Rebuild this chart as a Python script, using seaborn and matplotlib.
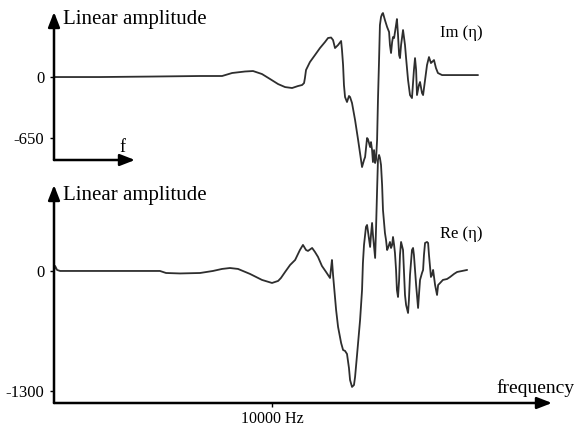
import matplotlib
matplotlib.use("Agg")
import matplotlib.pyplot as plt
import seaborn as sns

# ---------------- data ----------------
im_freq = [0, 2110, 4400, 6700, 7710, 8170, 8760, 9130, 9540, 9910, 10280, 10600,
           10920, 11190, 11380, 11470, 11510, 11560, 11740, 11970, 12200, 12430,
           12570, 12710, 12800, 12890, 13030, 13170, 13210, 13260, 13300, 13350,
           13440, 13530, 13580, 13670, 13810, 13950, 14130, 14220, 14270, 14360,
           14400, 14500, 14540, 14590, 14630, 14680, 14730, 14770, 14820, 14860,
           14910, 14950, 15000, 15050, 15090, 15180, 15280, 15370, 15410, 15460,
           15510, 15550, 15600, 15690, 15730, 15780, 15830, 15870, 15920, 16010,
           16100, 16150, 16240, 16330, 16420, 16510, 16560, 16610, 16650, 16740,
           16790, 16880, 16930, 17020, 17110, 17200, 17290, 17340, 17430, 17520,
           17610, 17800, 18620, 19450]
im_amp = [0, 0, 5, 11, 11, 43, 59, 64, 32, -21, -75, -107,
          -117, -96, -85, -64, -11, 75, 160, 234, 309, 373,
          416, 421, 394, 309, 341, 384, 288, 128, -85, -213,
          -266, -202, -213, -277, -458, -671, -959, -884, -852, -650,
          -661, -746, -693, -778, -906, -778, -916, -884, -671, -245,
          181, 554, 639, 671, 682, 607, 533, 480, 341, 256,
          373, 426, 416, 554, 618, 448, 234, 202, 341, 501,
          341, 202, -32, -192, -224, 75, 202, 75, -192, -85,
          -53, -170, -192, -32, 128, 213, 149, 160, 181, 96,
          43, 21, 21, 21]

re_freq = [0, 50, 140, 280, 2110, 4860, 5140, 5780, 6700, 7290, 7710, 8070,
           8440, 8990, 9540, 10000, 10280, 10410, 10600, 10830, 11060, 11280,
           11420, 11560, 11650, 11840, 11970, 12110, 12290, 12480, 12660, 12710,
           12750, 12800, 12840, 12940, 13030, 13170, 13260, 13350, 13440, 13530,
           13580, 13670, 13760, 13810, 13900, 14040, 14130, 14170, 14220, 14310,
           14360, 14400, 14500, 14540, 14590, 14630, 14730, 14770, 14820, 14860,
           14910, 14950, 15000, 15050, 15090, 15180, 15230, 15280, 15320, 15410,
           15460, 15510, 15550, 15600, 15640, 15690, 15730, 15780, 15830, 15870,
           15920, 16010, 16060, 16100, 16150, 16240, 16280, 16330, 16420, 16470,
           16510, 16610, 16700, 16740, 16790, 16880, 16930, 16970, 17020, 17110,
           17160, 17200, 17290, 17340, 17390, 17480, 17570, 17620, 17710, 17840,
           18030, 18170, 18350, 18490, 18720, 18950]
re_amp = [0, 54, 11, 0, 0, 0, -22, -27, -22, 0, 22, 32,
          22, -32, -97, -130, -108, -76, -11, 65, 119, 227,
          282, 227, 217, 249, 206, 152, 54, -11, -76, 32,
          119, -43, -152, -422, -606, -780, -856, -866, -899, -1051,
          -1181, -1256, -1235, -1148, -910, -531, -206, 87, 282, 477,
          498, 433, 260, 390, 520, 390, 141, 444, 877, 1202,
          1256, 1224, 1148, 931, 661, 412, 336, 227, 249, 314,
          249, 282, 368, 282, 195, 11, -206, -282, -97, 173,
          314, 227, -43, -260, -368, -455, -314, -43, 227, 249,
          173, -152, -401, -260, -97, -22, 11, 173, 303, 314,
          303, 173, -65, -43, 11, -152, -260, -152, -130, -97,
          -87, -65, -32, -11, 0, 11]

top_ticks = [0, -650]
top_ticklabels = ["0", "-650"]
bot_ticks = [0, -1300]
bot_ticklabels = ["0", "-1300"]
x_ticks = [10000]
x_ticklabels = ["10000 Hz"]

# ---------------- style ----------------
sns.set_theme(style="white")
plt.rcParams["font.family"] = ["Liberation Serif", "DejaVu Serif"]

W, H = 574, 426
fig = plt.figure(figsize=(W / 100, H / 100), dpi=100)
fig.patch.set_facecolor("white")

def px_rect(x0, y_top, x1, y_bot):
    return [x0 / W, 1 - y_bot / H, (x1 - x0) / W, (y_bot - y_top) / H]

XMAX = 23210
ax_top = fig.add_axes(px_rect(54, 12, 560, 160))
ax_bot = fig.add_axes(px_rect(54, 185, 560, 403))

line_col = "#2e2e2e"
sns.lineplot(x=im_freq, y=im_amp, ax=ax_top, estimator=None, sort=False,
             color=line_col, linewidth=1.3, clip_on=False)
sns.lineplot(x=re_freq, y=re_amp, ax=ax_bot, estimator=None, sort=False,
             color=line_col, linewidth=1.3, clip_on=False)

ax_top.set_xlim(0, XMAX)
ax_top.set_ylim(-884, 693)
ax_bot.set_xlim(0, XMAX)
ax_bot.set_ylim(-1430, 931)

arrow_kw = dict(arrowstyle="-|>,head_length=0.9,head_width=0.35", color="black",
                lw=1.8, shrinkA=0, shrinkB=0, mutation_scale=10)

for ax in (ax_top, ax_bot):
    ax.set_facecolor("none")
    for s in ax.spines.values():
        s.set_visible(False)
    ax.annotate("", xy=(0, 1.0), xytext=(0, 0), xycoords="axes fraction",
                textcoords="axes fraction", arrowprops=arrow_kw)
    ax.set_xlabel("")
    ax.set_ylabel("")
    ax.tick_params(axis="y", length=3, width=1, direction="out", pad=4,
                   labelsize=12, colors="black", left=True)

ax_top.annotate("", xy=((135 - 54) / 506, 0), xytext=(0, 0), xycoords="axes fraction",
                textcoords="axes fraction", arrowprops=arrow_kw)
ax_bot.annotate("", xy=((552 - 54) / 506, 0), xytext=(0, 0), xycoords="axes fraction",
                textcoords="axes fraction", arrowprops=arrow_kw)

ax_top.set_yticks(top_ticks)
ax_top.set_yticklabels(top_ticklabels)
ax_top.set_xticks([])
ax_bot.set_yticks(bot_ticks)
ax_bot.set_yticklabels(bot_ticklabels)
ax_bot.set_xticks(x_ticks)
ax_bot.set_xticklabels(x_ticklabels)
ax_bot.tick_params(axis="x", length=3, width=1, direction="out", pad=3,
                   labelsize=11.5, colors="black", bottom=True)

def ftext(x, y, s, **kw):
    fig.text(x / W, 1 - y / H, s, color="black", **kw)

ftext(63, 24, "Linear amplitude", fontsize=15, ha="left", va="baseline")
ftext(63, 200, "Linear amplitude", fontsize=15, ha="left", va="baseline")
ftext(122, 147, "f", fontsize=13, ha="center", va="center")
ftext(461, 33, "Im (\u03b7)", fontsize=12, ha="center", va="center")
ftext(461, 234, "Re (\u03b7)", fontsize=12, ha="center", va="center")
ftext(535, 393, "frequency", fontsize=14, ha="center", va="baseline")

fig.savefig("out.png", dpi=100, facecolor="white")
